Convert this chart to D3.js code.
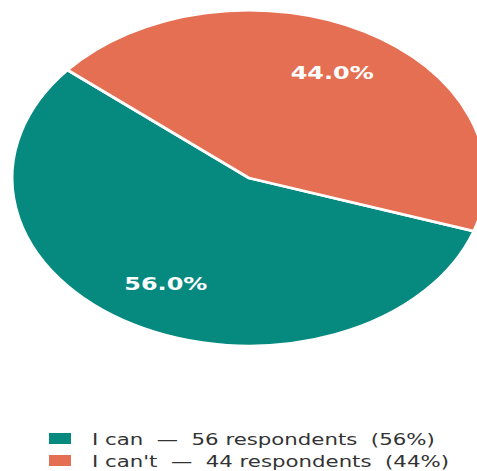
<!DOCTYPE html>
<html>
<head>
<meta charset="utf-8">
<script src="https://cdn.jsdelivr.net/npm/d3@7"></script>
<style>
  html, body { margin: 0; padding: 0; background: #fff; }
  svg { display: block; }
</style>
</head>
<body>
<svg id="chart" width="477" height="471"></svg>
<script>
// Survey answers
const categories = ["I can", "I can't"];
const respondents = [56, 44];
const colors = ["#06897F", "#E56F52"];

const width = 477, height = 471;
const svg = d3.select("#chart");

const total = d3.sum(respondents);
const cx = 249, cy = 178;
const radius = 168;
const stretchX = 1.41;

// Slices start at the upper left and run counter-clockwise
const startDeg = -50;
const pie = d3.pie()
  .sort(null)
  .value(d => d.value)
  .startAngle(startDeg * Math.PI / 180)
  .endAngle((startDeg - 360) * Math.PI / 180);

const data = categories.map((c, i) => ({ name: c, value: respondents[i], color: colors[i] }));
const arcs = pie(data);

const arc = d3.arc().innerRadius(0).outerRadius(radius);
const labelArc = d3.arc().innerRadius(radius * 0.72).outerRadius(radius * 0.72);

const g = svg.append("g")
  .attr("transform", `translate(${cx},${cy}) scale(${stretchX},1)`);

g.selectAll("path.slice")
  .data(arcs)
  .join("path")
  .attr("class", "slice")
  .attr("d", arc)
  .attr("fill", d => d.data.color)
  .attr("stroke", "#fff")
  .attr("stroke-width", 2.8)
  .attr("stroke-linejoin", "round")
  .attr("vector-effect", "non-scaling-stroke");

g.selectAll("text.pct")
  .data(arcs)
  .join("text")
  .attr("class", "pct")
  .attr("transform", d => `translate(${labelArc.centroid(d)})`)
  .attr("text-anchor", "middle")
  .attr("dy", "0.36em")
  .attr("font-family", "DejaVu Sans, sans-serif")
  .attr("font-weight", "bold")
  .attr("font-size", 17)
  .attr("fill", "#fff")
  .text(d => (d.data.value / total * 100).toFixed(1) + "%");

// Legend
const legend = svg.append("g");
const legendX = 49, legendTextX = 92;
const rowY = [445, 467];
const gap = "\u00A0\u00A0";

const rows = legend.selectAll("g.row")
  .data(data)
  .join("g")
  .attr("class", "row");

rows.append("rect")
  .attr("x", legendX)
  .attr("y", (d, i) => rowY[i] - 12)
  .attr("width", 22)
  .attr("height", 11)
  .attr("fill", d => d.color);

const labels = rows.append("text")
  .attr("x", 0)
  .attr("y", 0)
  .attr("font-family", "DejaVu Sans, sans-serif")
  .attr("font-size", 16.5)
  .attr("fill", "#333")
  .text(d => `${d.name}${gap}\u2014${gap}${d.value} respondents${gap}(${Math.round(d.value / total * 100)}%)`);

const firstLen = labels.nodes()[0].getComputedTextLength();
const legendScale = 343 / firstLen;
labels.attr("transform", (d, i) => `translate(${legendTextX},${rowY[i]}) scale(${legendScale},1)`);
</script>
</body>
</html>
